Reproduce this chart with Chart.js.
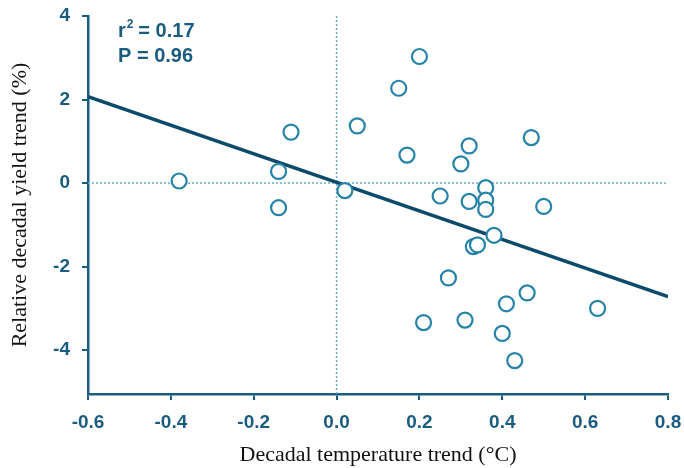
<!DOCTYPE html>
<html>
<head>
<meta charset="utf-8">
<script src="https://cdn.jsdelivr.net/npm/chart.js@4.4.1/dist/chart.umd.min.js"></script>
<style>
  html, body { margin: 0; padding: 0; background: #fff; }
  #wrap { width: 684px; height: 468px; }
</style>
</head>
<body>
<div id="wrap"><canvas id="mycanvas" width="684" height="468"></canvas></div>
<script>
// temperature trend (°C per decade) and yield trend (% per decade), one per point
var tempTrend = [-0.38, -0.14, -0.14, -0.11, 0.02, 0.05, 0.15, 0.20, 0.17, 0.25,
                 0.30, 0.32, 0.32, 0.36, 0.36, 0.36, 0.38, 0.33, 0.34, 0.47,
                 0.50, 0.27, 0.46, 0.41, 0.21, 0.31, 0.40, 0.43, 0.63];
var yieldTrend = [0.05, 0.28, -0.59, 1.22, -0.18, 1.37, 2.27, 3.03, 0.67, -0.31,
                  0.46, 0.89, -0.44, -0.11, -0.41, -0.63, -1.25, -1.52, -1.48, 1.09,
                  -0.56, -2.27, -2.63, -2.89, -3.34, -3.28, -3.60, -4.25, -3.00];
// fitted regression line end points
var fitX = [-0.6, 0.8];
var fitY = [2.07, -2.72];
var xTicks = [-0.6, -0.4, -0.2, 0.0, 0.2, 0.4, 0.6, 0.8];
var yTicks = [-4, -2, 0, 2, 4];
var statLines = ["0.17", "0.96"];

var blue = "#1a5c80";
var markerBlue = "#2483a6";
var dotBlue = "#6aaec6";
var yMin = -5.05;

var points = tempTrend.map(function(t, i){ return {x: t, y: yieldTrend[i]}; });
var fit = fitX.map(function(t, i){ return {x: t, y: fitY[i]}; });

var statsText = {
  id: 'statsText',
  afterDraw: function(chart){
    var c = chart.ctx;
    c.save();
    c.fillStyle = blue;
    c.textBaseline = 'alphabetic';
    c.textAlign = 'left';
    c.font = 'bold 20px "Liberation Sans", Arial, sans-serif';
    c.fillText('r', 118, 37);
    var w = c.measureText('r').width;
    c.font = 'bold 12px "Liberation Sans", Arial, sans-serif';
    c.fillText('2', 118 + w + 1, 28);
    c.font = 'bold 20px "Liberation Sans", Arial, sans-serif';
    c.fillText(' = ' + statLines[0], 118 + w + 7, 37);
    c.fillText('P = ' + statLines[1], 118, 62);
    c.restore();
  }
};

var ctx = document.getElementById("mycanvas").getContext("2d");
var myScatter = {
  type: 'scatter',
  data: {
    datasets: [
      {
        data: [{x: 0, y: 4}, {x: 0, y: yMin}],
        type: 'line', showLine: true,
        borderColor: dotBlue, borderWidth: 1.5, borderDash: [2, 2],
        pointRadius: 0, order: 3
      },
      {
        data: [{x: -0.6, y: 0}, {x: 0.8, y: 0}],
        type: 'line', showLine: true,
        borderColor: dotBlue, borderWidth: 1.5, borderDash: [2, 2],
        pointRadius: 0, order: 3
      },
      {
        data: fit,
        type: 'line', showLine: true,
        borderColor: "#0c4a6c", borderWidth: 3.5,
        pointRadius: 0, order: 2
      },
      {
        data: points,
        pointRadius: 7.5,
        pointBorderWidth: 2.2,
        pointBackgroundColor: "#ffffff",
        pointBorderColor: markerBlue,
        order: 1
      }
    ]
  },
  options: {
    responsive: false,
    animation: false,
    layout: { padding: { left: 0, right: 16, top: 16, bottom: 0 } },
    plugins: { legend: { display: false }, tooltip: { enabled: false } },
    scales: {
      x: {
        type: 'linear', min: -0.6, max: 0.8,
        afterBuildTicks: function(s){ s.ticks = xTicks.map(function(v){ return {value: v}; }); },
        afterFit: function(s){ s.height = 74; s.paddingLeft = 0; s.paddingRight = 0; },
        border: { color: blue, width: 2.5 },
        grid: { drawOnChartArea: false, drawTicks: true, tickLength: 6, color: blue, lineWidth: 2 },
        ticks: {
          color: blue, padding: 11,
          font: { family: '"Liberation Sans", Arial, sans-serif', size: 19, weight: 'bold' },
          callback: function(v){ return v.toFixed(1); }
        },
        title: {
          display: true, text: 'Decadal temperature trend (°C)', color: '#111',
          font: { family: '"Liberation Serif", "Times New Roman", serif', size: 22 },
          padding: { top: 0, bottom: 0 }
        }
      },
      y: {
        type: 'linear', min: yMin, max: 4,
        afterBuildTicks: function(s){ s.ticks = yTicks.map(function(v){ return {value: v}; }); },
        afterFit: function(s){ s.width = 88; s.paddingTop = 0; s.paddingBottom = 0; },
        border: { color: blue, width: 2.5 },
        grid: { drawOnChartArea: false, drawTicks: true, tickLength: 6, color: blue, lineWidth: 2 },
        ticks: {
          color: blue, padding: 12,
          font: { family: '"Liberation Sans", Arial, sans-serif', size: 19, weight: 'bold' }
        },
        title: {
          display: true, text: 'Relative decadal yield trend (%)', color: '#111',
          font: { family: '"Liberation Serif", "Times New Roman", serif', size: 22 },
          padding: { top: 7, bottom: 0 }
        }
      }
    }
  },
  plugins: [statsText]
};
var newChart = new Chart(ctx, myScatter);
</script>
</body>
</html>
